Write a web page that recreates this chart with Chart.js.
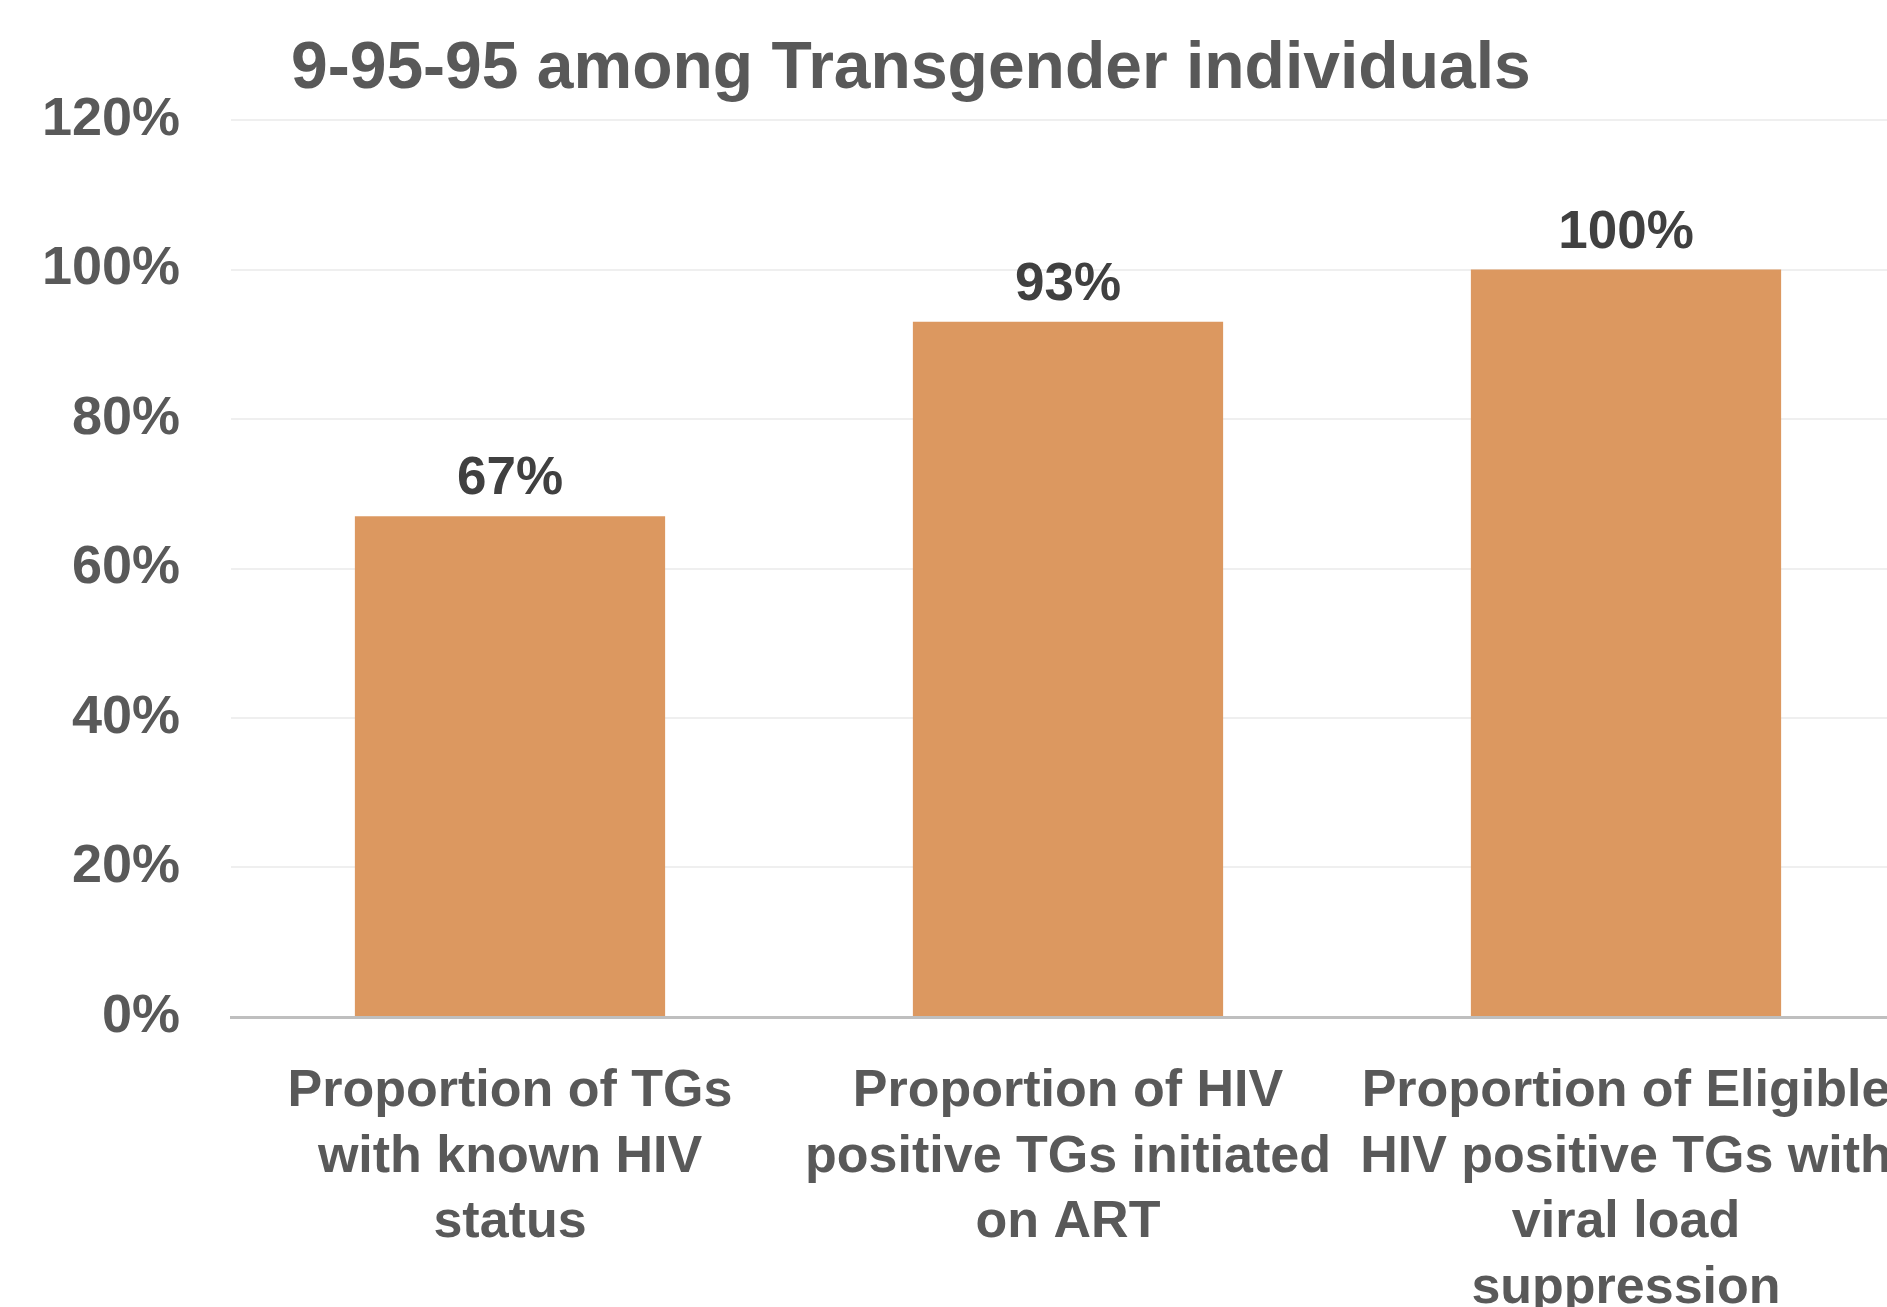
<!DOCTYPE html>
<html>
<head>
<meta charset="utf-8">
<title>9-95-95 among Transgender individuals</title>
<script src="https://cdn.jsdelivr.net/npm/chart.js@4.4.1/dist/chart.umd.min.js"></script>
<style>
  html, body { margin: 0; padding: 0; background: #fff; overflow: hidden; }
  #wrap { position: absolute; left: 0; top: 0; width: 1910px; height: 1330px; }
</style>
</head>
<body>
<div id="wrap"><canvas id="chart" width="1910" height="1330"></canvas></div>
<script>
const chartTitle = '9-95-95 among Transgender individuals';
const categories = [
  ['Proportion of TGs', 'with known HIV', 'status'],
  ['Proportion of HIV', 'positive TGs initiated', 'on ART'],
  ['Proportion of Eligible', 'HIV positive TGs with', 'viral load', 'suppression']
];
const values = [0.67, 0.93, 1.00];
const yTicks = [0, 0.2, 0.4, 0.6, 0.8, 1.0, 1.2];

const FONT = '"Liberation Sans", Arial, sans-serif';
const pct = v => Math.round(v * 100) + '%';

// title drawn at a fixed left offset, like the original slide
const titlePlugin = {
  id: 'slideTitle',
  afterDraw(chart) {
    const ctx = chart.ctx;
    ctx.save();
    ctx.font = 'bold 66px ' + FONT;
    ctx.fillStyle = '#595959';
    ctx.textAlign = 'left';
    ctx.textBaseline = 'alphabetic';
    ctx.fillText(chartTitle, 291, 88);
    ctx.restore();
  }
};

// value labels above each bar
const barLabels = {
  id: 'barLabels',
  afterDatasetsDraw(chart) {
    const ctx = chart.ctx;
    const meta = chart.getDatasetMeta(0);
    ctx.save();
    ctx.font = 'bold 53px ' + FONT;
    ctx.fillStyle = '#404040';
    ctx.textAlign = 'center';
    ctx.textBaseline = 'alphabetic';
    meta.data.forEach((bar, i) => {
      ctx.fillText(pct(values[i]), bar.x, bar.y - 22);
    });
    ctx.restore();
  }
};

new Chart(document.getElementById('chart'), {
  type: 'bar',
  data: {
    labels: categories,
    datasets: [{
      data: values,
      backgroundColor: '#DC9860',
      categoryPercentage: 1,
      barPercentage: 0.556
    }]
  },
  options: {
    responsive: false,
    animation: false,
    devicePixelRatio: 1,
    layout: { padding: { top: 120, right: 5, left: 0, bottom: 0 } },
    plugins: {
      legend: { display: false },
      tooltip: { enabled: false }
    },
    scales: {
      x: {
        grid: { display: false },
        border: { display: true, color: '#BFBFBF', width: 3 },
        ticks: {
          color: '#595959',
          font: { family: FONT, size: 52, weight: 'bold', lineHeight: 1.26 },
          padding: 34,
          maxRotation: 0,
          autoSkip: false
        },
        afterFit(scale) {
          scale.height = 313;
          // labels may run past the edge, as in the original
          scale.paddingLeft = 0;
          scale.paddingRight = 0;
        }
      },
      y: {
        min: 0,
        max: 1.2,
        afterBuildTicks(scale) { scale.ticks = yTicks.map(v => ({ value: v })); },
        grid: { color: '#EFEFEF', lineWidth: 2, drawTicks: false },
        border: { display: false },
        ticks: {
          color: '#595959',
          font: { family: FONT, size: 54, weight: 'bold' },
          padding: 51,
          callback: v => pct(v)
        },
        afterFit(scale) { scale.width = 231; }
      }
    }
  },
  plugins: [titlePlugin, barLabels]
});
</script>
</body>
</html>
